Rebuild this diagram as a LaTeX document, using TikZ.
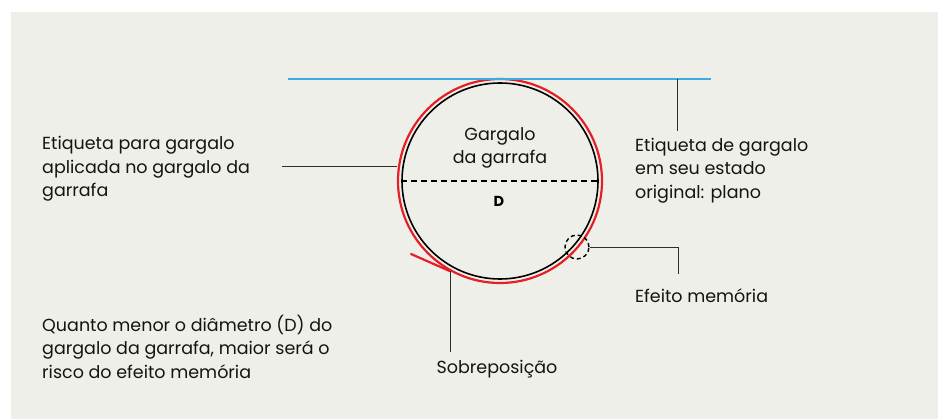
\documentclass[tikz,border=0pt]{standalone}
\usepackage{fontspec}
\setmainfont{Poppins}
\usetikzlibrary{positioning, calc}
\definecolor{bggray}{RGB}{239, 239, 234}
\definecolor{labelred}{RGB}{228, 32, 38}
\definecolor{flatblue}{RGB}{60, 172, 225}
\definecolor{leadgray}{RGB}{45, 45, 45}

\begin{document}
\begin{tikzpicture}[x=1pt, y=-1pt,
  lead/.style={leadgray, line width=0.9pt},
  txt/.style={font=\fontsize{17.5}{23.5}\selectfont, align=left, inner sep=0pt, text=black!92, anchor=north west}]
  \useasboundingbox (0,0) rectangle (938,419);
  \fill[bggray] (11,12) rectangle (938,419);

  % bottle neck (black) and applied label (red)
  \node[circle, draw=black, line width=1.6pt, minimum size=196pt, inner sep=0pt] (neck) at (500,181) {};
  \node[circle, draw=labelred, line width=2.2pt, minimum size=204pt, inner sep=0pt] (label) at (500,181) {};
  \coordinate (tail) at (411,254);
  \draw[labelred, line width=2.2pt, line cap=round] (tail) -- (label.241);
  \draw[black, line width=1.6pt, dash pattern=on 6pt off 4pt] (neck.west) -- (neck.east);
  \node[txt, anchor=north, align=center] (gargalo) at (500,127) {Gargalo\\da garrafa};
  \node[font=\fontsize{14.5}{16}\selectfont\bfseries, inner sep=0pt, anchor=base] (diam) at (499,206.7) {D};

  % flat label
  \coordinate (flatL) at (288,79);
  \coordinate (flatR) at (711,79);
  \draw[flatblue, line width=1.5pt] (flatL) -- (flatR);
  \node[txt] (flattxt) at (635,137.7) {Etiqueta de gargalo\\em seu estado\\original: plano};
  \coordinate (flatlead) at (677,79);
  \draw[lead, shorten >=6.5pt] (flatlead) -- (flatlead |- flattxt.north);

  % applied label
  \node[txt] (appltxt) at (42,136.3) {Etiqueta para gargalo\\aplicada no gargalo da\\garrafa};
  \coordinate (appl) at (282,166);
  \draw[lead] (appl) -- (appl -| label.west);

  % memory effect
  \node[circle, draw=black, dash pattern=on 4pt off 3pt, line width=1.4pt, minimum size=24pt, inner sep=0pt] (mem) at (577,247) {};
  \node[txt] (memtxt) at (635,288.7) {Efeito memória};
  \coordinate (memknee) at (678,247);
  \draw[lead, shorten >=14.5pt] (mem.east) -- (memknee) -- (memknee |- memtxt.north);

  % overlap
  \node[txt, anchor=north] (sobre) at (497,360.3) {Sobreposição};
  \draw[lead, shorten >=8pt] (label.241) -- (label.241 |- sobre.north);

  % note
  \node[txt] (note) at (42,314.7) {Quanto menor o diâmetro (D) do\\gargalo da garrafa, maior será o\\risco do efeito memória};
\end{tikzpicture}
\end{document}
